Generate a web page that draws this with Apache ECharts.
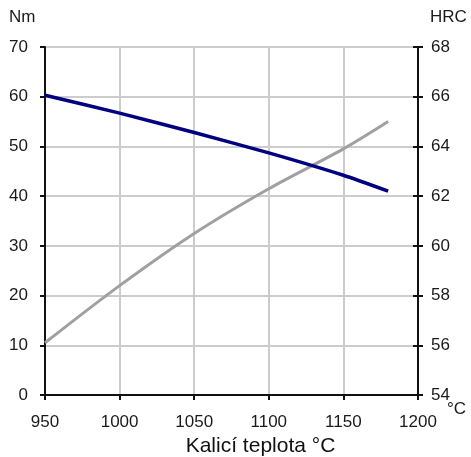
<!DOCTYPE html>
<html><head><meta charset="utf-8">
<script src="https://cdn.jsdelivr.net/npm/echarts@6/dist/echarts.min.js"></script>
<style>html,body{margin:0;padding:0;background:#fff}#c{width:471px;height:457px}</style>
</head><body><div id="c"></div>
<script>
var temps = [950, 1000, 1050, 1100, 1150, 1180];
var torqueNm = [60.3, 56.7, 52.8, 48.7, 44.2, 41.0];
var hardnessHRC = [56.1, 58.4, 60.5, 62.3, 63.9, 65.0];
var xTicks = [950, 1000, 1050, 1100, 1150, 1200];
var leftTicks = [0, 10, 20, 30, 40, 50, 60, 70];
var rightTicks = [54, 56, 58, 60, 62, 64, 66, 68];

var font = '"Liberation Sans", Arial, sans-serif';
var chart = echarts.init(document.getElementById('c'), null, {renderer: 'canvas'});
chart.setOption({
  animation: false,
  backgroundColor: '#fff',
  grid: {left: 45, right: 53, top: 47, bottom: 62, containLabel: false, outerBoundsMode: 'none'},
  xAxis: {
    type: 'value', min: xTicks[0], max: xTicks[xTicks.length - 1], interval: 50,
    name: 'Kalicí teplota °C', nameLocation: 'middle', nameGap: 41,
    nameTextStyle: {fontFamily: font, fontSize: 21, color: '#111', padding: [0, 0, 0, 58]},
    axisLine: {lineStyle: {color: '#111', width: 2}},
    axisTick: {show: true, length: 5, lineStyle: {color: '#111', width: 2}},
    axisLabel: {fontFamily: font, fontSize: 17, color: '#1a1a1a', margin: 19,
      formatter: function (v) { return String(v); }},
    splitLine: {show: true, lineStyle: {color: '#cccccc', width: 2}}
  },
  yAxis: [{
    type: 'value', min: leftTicks[0], max: leftTicks[leftTicks.length - 1], interval: 10,
    position: 'left',
    axisLine: {show: true, lineStyle: {color: '#111', width: 2}},
    axisTick: {show: true, length: 5, lineStyle: {color: '#111', width: 2}},
    axisLabel: {fontFamily: font, fontSize: 17, color: '#1a1a1a', margin: 17},
    splitLine: {show: true, lineStyle: {color: '#cccccc', width: 2}}
  }, {
    type: 'value', min: rightTicks[0], max: rightTicks[rightTicks.length - 1], interval: 2,
    position: 'right',
    axisLine: {show: true, lineStyle: {color: '#111', width: 2}},
    axisTick: {show: true, length: 5, lineStyle: {color: '#111', width: 2}},
    axisLabel: {fontFamily: font, fontSize: 17, color: '#1a1a1a', margin: 13},
    splitLine: {show: false}
  }, {
    type: 'value', min: rightTicks[0], max: rightTicks[rightTicks.length - 1], interval: 2,
    position: 'right',
    axisLine: {show: false},
    axisTick: {show: true, inside: true, length: 5, lineStyle: {color: '#111', width: 2}},
    axisLabel: {show: false},
    splitLine: {show: false}
  }],
  series: [{
    type: 'line', yAxisIndex: 0, showSymbol: false, smooth: 0.2,
    data: temps.map(function (t, i) { return [t, torqueNm[i]]; }),
    lineStyle: {color: '#000080', width: 3.5}, z: 3
  }, {
    type: 'line', yAxisIndex: 1, showSymbol: false, smooth: 0.3,
    data: temps.map(function (t, i) { return [t, hardnessHRC[i]]; }),
    lineStyle: {color: '#a0a0a0', width: 3}, z: 2
  }],
  graphic: [
    {type: 'text', left: 9, top: 9, style: {text: 'Nm', font: '17px ' + font, fill: '#1a1a1a'}},
    {type: 'text', left: 430, top: 9, style: {text: 'HRC', font: '17px ' + font, fill: '#1a1a1a'}},
    {type: 'text', left: 447, top: 401, style: {text: '°C', font: '17px ' + font, fill: '#1a1a1a'}}
  ]
});
</script></body></html>
